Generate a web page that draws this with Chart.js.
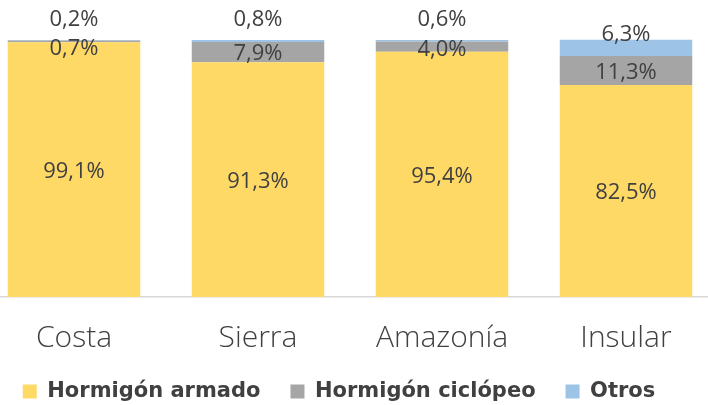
<!DOCTYPE html>
<html>
<head>
<meta charset="utf-8">
<script src="https://cdn.jsdelivr.net/npm/chart.js@4.4.0/dist/chart.umd.min.js"></script>
<style>
  html, body { margin: 0; padding: 0; background: #fff; overflow: hidden; width: 708px; height: 405px; }
  #wrap { position: absolute; left: -40px; top: 0; width: 758px; height: 412px; }
</style>
</head>
<body>
<div id="wrap"><canvas id="chart" width="758" height="412"></canvas></div>
<script>
// Share of structure type by region (stacked to 100%)
const regions = ["Costa", "Sierra", "Amazonía", "Insular"];
const armado = [99.1, 91.3, 95.4, 82.5];
const ciclopeo = [0.7, 7.9, 4.0, 11.3];
const otros = [0.2, 0.8, 0.6, 6.3];

const seriesNames = ["Hormigón armado", "Hormigón ciclópeo", "Otros"];
const colors = ["#FFD966", "#A5A5A5", "#9DC3E6"];
const textColor = "#404040";
const lightFont = "'Open Sans', Lato, sans-serif";
const boldFont = "'DejaVu Sans', sans-serif";

function fmt(v) {
  return v.toFixed(1).replace(".", ",") + "%";
}

// value labels in / above each segment
const segmentLabels = {
  id: "segmentLabels",
  afterDatasetsDraw(chart) {
    const ctx = chart.ctx;
    ctx.save();
    ctx.font = "22px " + lightFont;
    ctx.fillStyle = textColor;
    ctx.textAlign = "center";
    ctx.textBaseline = "middle";
    chart.data.datasets.forEach((ds, di) => {
      const meta = chart.getDatasetMeta(di);
      meta.data.forEach((bar, i) => {
        const top = Math.min(bar.y, bar.base);
        const bottom = Math.max(bar.y, bar.base);
        const h = bottom - top;
        let y = (top + bottom) / 2;
        if (di === 0) y += 2;
        if (di === 1) y = Math.max(y, top + 6) + 2;
        if (di === 2) y = h < 10 ? top - 20 : y - 13;
        ctx.fillText(fmt(ds.data[i]), bar.x, y);
      });
    });
    ctx.restore();
  },
};

new Chart(document.getElementById("chart"), {
  type: "bar",
  data: {
    labels: regions,
    datasets: [
      { label: seriesNames[0], data: armado, backgroundColor: colors[0] },
      { label: seriesNames[1], data: ciclopeo, backgroundColor: colors[1] },
      { label: seriesNames[2], data: otros, backgroundColor: colors[2] },
    ].map((d) => ({ ...d, borderWidth: 0, barPercentage: 0.72, categoryPercentage: 1, clip: false })),
  },
  options: {
    responsive: false,
    animation: false,
    layout: { padding: { top: 40, left: 0, right: 0, bottom: 0 } },
    scales: {
      x: {
        stacked: true,
        grid: { display: false, drawTicks: false },
        border: { display: true, color: "#D9D9D9", width: 1.5 },
        ticks: {
          color: textColor,
          padding: 26,
          font: { family: lightFont, size: 30, weight: "300", lineHeight: 1 },
        },
        // fixed axis height, the labels may hang a bit into the legend strip
        afterFit(scale) {
          scale.height = 54;
        },
      },
      y: {
        stacked: true,
        min: 0,
        max: 100,
        grid: { display: false, drawTicks: false },
        border: { display: false },
        ticks: { display: false },
        // empty strip on the left so the legend sits where the original has it
        afterFit(scale) {
          scale.width = 22;
        },
      },
    },
    plugins: {
      tooltip: { enabled: false },
      legend: {
        position: "bottom",
        labels: {
          color: textColor,
          boxWidth: 14,
          boxHeight: 14,
          padding: 30,
          font: { family: boldFont, size: 21, weight: "bold" },
        },
      },
    },
  },
  plugins: [segmentLabels],
});
</script>
</body>
</html>
